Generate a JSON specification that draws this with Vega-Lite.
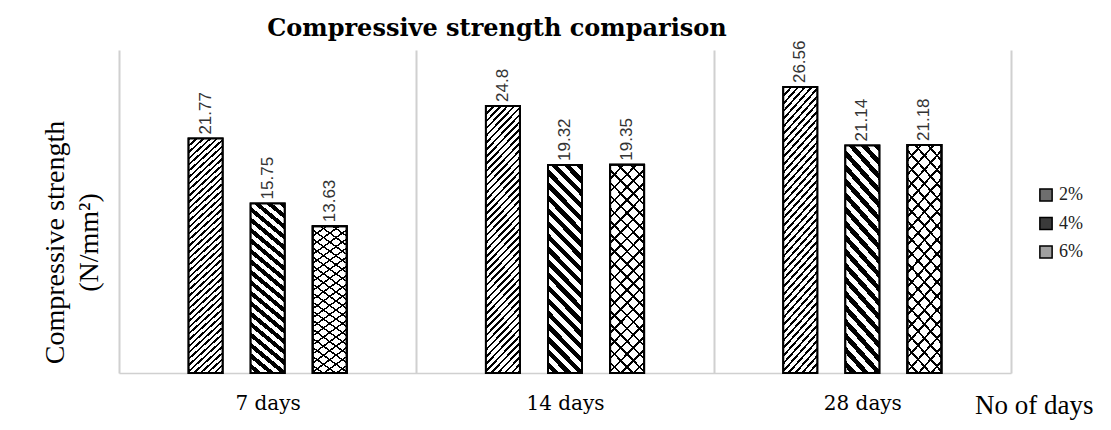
{
  "$schema": "https://vega.github.io/schema/vega-lite/v6.json",
  "width": 892,
  "height": 323,
  "autosize": "none",
  "padding": {"left": 119, "top": 50, "right": 100, "bottom": 57},
  "background": "white",
  "config": {"view": {"stroke": null}, "bar": {"width": 34}},
  "title": {"text": "Compressive strength comparison", "font": "DejaVu Serif", "fontSize": 24, "fontWeight": "bold", "color": "#000", "anchor": "middle", "frame": "group", "dx": -68, "offset": -1},
  "data": {"values": [
    {"days": "7 days", "mix": "2%", "strength": 21.77},
    {"days": "7 days", "mix": "4%", "strength": 15.75},
    {"days": "7 days", "mix": "6%", "strength": 13.63},
    {"days": "14 days", "mix": "2%", "strength": 24.8},
    {"days": "14 days", "mix": "4%", "strength": 19.32},
    {"days": "14 days", "mix": "6%", "strength": 19.35},
    {"days": "28 days", "mix": "2%", "strength": 26.56},
    {"days": "28 days", "mix": "4%", "strength": 21.14},
    {"days": "28 days", "mix": "6%", "strength": 21.18}
  ]},
  "encoding": {
    "x": {"field": "days", "type": "nominal", "sort": ["7 days", "14 days", "28 days"],
      "scale": {"paddingInner": 0, "paddingOuter": 0},
      "axis": {"title": "No of days", "labelAngle": 0, "grid": true, "tickBand": "extent", "gridColor": "#d0d0d0", "gridWidth": 2,
        "domainColor": "#d0d0d0", "domainWidth": 1.5, "ticks": false, "tickSize": 0,
        "labelFont": "DejaVu Serif", "labelFontSize": 20, "labelColor": "#000", "labelPadding": 20,
        "titleFont": "Liberation Serif", "titleFontSize": 27, "titleFontWeight": "normal", "titleColor": "#000",
        "titleX": 974, "titleY": 40, "titleAlign": "right", "titleBaseline": "alphabetic"}},
    "xOffset": {"field": "mix", "type": "nominal", "scale": {"domain": ["2%", "4%", "6%"], "paddingInner": 0.21, "paddingOuter": 1}},
    "y": {"field": "strength", "type": "quantitative", "scale": {"domain": [0, 30], "nice": false},
      "axis": {"title": ["Compressive strength", "(N/mm²)"], "domain": false, "labels": false, "ticks": false, "grid": false,
        "titleFont": "Liberation Serif", "titleFontSize": 28, "titleFontWeight": "normal", "titleColor": "#000",
        "titleAngle": 270, "titleX": -64, "titleY": 192, "titleAlign": "center", "titleBaseline": "middle", "titleLineHeight": 34}}
  },
  "layer": [
    {
      "mark": {"type": "bar", "stroke": "#000", "strokeWidth": 2, "width": 34},
      "encoding": {
        "fill": {"field": "mix", "type": "nominal", "scale": {"domain": ["2%", "4%", "6%"], "range": ["#6e6e6e", "#3a3a3a", "#a0a0a0"]},
          "legend": {"orient": "none", "legendX": 918, "legendY": 136, "title": null, "symbolType": "square", "symbolSize": 150,
            "symbolStrokeColor": "#000", "symbolStrokeWidth": 1.5, "labelFont": "Liberation Serif", "labelFontSize": 18,
            "labelColor": "#222", "rowPadding": 8.5, "padding": 0, "labelOffset": 4}}
      }
    },
    {
      "transform": [{"filter": "datum.mix === '2%'"}],
      "mark": {"type": "bar", "stroke": "#000", "strokeWidth": 2, "width": 34, "fill": {"gradient": "linear", "x1": 0, "y1": 0, "x2": 1, "y2": 7.5, "stops": [
        {"offset": 0, "color": "#000"}, {"offset": 0.0013, "color": "#000"}, {"offset": 0.0013, "color": "#fff"}, {"offset": 0.0035, "color": "#fff"},
        {"offset": 0.0035, "color": "#000"}, {"offset": 0.0048, "color": "#000"}, {"offset": 0.0048, "color": "#fff"}, {"offset": 0.007, "color": "#fff"},
        {"offset": 0.007, "color": "#000"}, {"offset": 0.0083, "color": "#000"}, {"offset": 0.0083, "color": "#fff"}, {"offset": 0.0105, "color": "#fff"},
        {"offset": 0.0105, "color": "#000"}, {"offset": 0.0118, "color": "#000"}, {"offset": 0.0118, "color": "#fff"}, {"offset": 0.014, "color": "#fff"},
        {"offset": 0.014, "color": "#000"}, {"offset": 0.0153, "color": "#000"}, {"offset": 0.0153, "color": "#fff"}, {"offset": 0.0175, "color": "#fff"},
        {"offset": 0.0175, "color": "#000"}, {"offset": 0.0188, "color": "#000"}, {"offset": 0.0188, "color": "#fff"}, {"offset": 0.021, "color": "#fff"},
        {"offset": 0.021, "color": "#000"}, {"offset": 0.0223, "color": "#000"}, {"offset": 0.0223, "color": "#fff"}, {"offset": 0.0245, "color": "#fff"},
        {"offset": 0.0245, "color": "#000"}, {"offset": 0.0258, "color": "#000"}, {"offset": 0.0258, "color": "#fff"}, {"offset": 0.028, "color": "#fff"},
        {"offset": 0.028, "color": "#000"}, {"offset": 0.0293, "color": "#000"}, {"offset": 0.0293, "color": "#fff"}, {"offset": 0.0315, "color": "#fff"},
        {"offset": 0.0315, "color": "#000"}, {"offset": 0.0328, "color": "#000"}, {"offset": 0.0328, "color": "#fff"}, {"offset": 0.035, "color": "#fff"},
        {"offset": 0.035, "color": "#000"}, {"offset": 0.0363, "color": "#000"}, {"offset": 0.0363, "color": "#fff"}, {"offset": 0.0385, "color": "#fff"},
        {"offset": 0.0385, "color": "#000"}, {"offset": 0.0398, "color": "#000"}, {"offset": 0.0398, "color": "#fff"}, {"offset": 0.042, "color": "#fff"},
        {"offset": 0.042, "color": "#000"}, {"offset": 0.0433, "color": "#000"}, {"offset": 0.0433, "color": "#fff"}, {"offset": 0.0455, "color": "#fff"},
        {"offset": 0.0455, "color": "#000"}, {"offset": 0.0468, "color": "#000"}, {"offset": 0.0468, "color": "#fff"}, {"offset": 0.049, "color": "#fff"},
        {"offset": 0.049, "color": "#000"}, {"offset": 0.0503, "color": "#000"}, {"offset": 0.0503, "color": "#fff"}, {"offset": 0.0525, "color": "#fff"},
        {"offset": 0.0525, "color": "#000"}, {"offset": 0.0538, "color": "#000"}, {"offset": 0.0538, "color": "#fff"}, {"offset": 0.056, "color": "#fff"},
        {"offset": 0.056, "color": "#000"}, {"offset": 0.0573, "color": "#000"}, {"offset": 0.0573, "color": "#fff"}, {"offset": 0.0595, "color": "#fff"},
        {"offset": 0.0595, "color": "#000"}, {"offset": 0.0608, "color": "#000"}, {"offset": 0.0608, "color": "#fff"}, {"offset": 0.063, "color": "#fff"},
        {"offset": 0.063, "color": "#000"}, {"offset": 0.0643, "color": "#000"}, {"offset": 0.0643, "color": "#fff"}, {"offset": 0.0665, "color": "#fff"},
        {"offset": 0.0665, "color": "#000"}, {"offset": 0.0678, "color": "#000"}, {"offset": 0.0678, "color": "#fff"}, {"offset": 0.07, "color": "#fff"},
        {"offset": 0.07, "color": "#000"}, {"offset": 0.0713, "color": "#000"}, {"offset": 0.0713, "color": "#fff"}, {"offset": 0.0735, "color": "#fff"},
        {"offset": 0.0735, "color": "#000"}, {"offset": 0.0748, "color": "#000"}, {"offset": 0.0748, "color": "#fff"}, {"offset": 0.077, "color": "#fff"},
        {"offset": 0.077, "color": "#000"}, {"offset": 0.0783, "color": "#000"}, {"offset": 0.0783, "color": "#fff"}, {"offset": 0.0805, "color": "#fff"},
        {"offset": 0.0805, "color": "#000"}, {"offset": 0.0818, "color": "#000"}, {"offset": 0.0818, "color": "#fff"}, {"offset": 0.084, "color": "#fff"},
        {"offset": 0.084, "color": "#000"}, {"offset": 0.0853, "color": "#000"}, {"offset": 0.0853, "color": "#fff"}, {"offset": 0.0875, "color": "#fff"},
        {"offset": 0.0875, "color": "#000"}, {"offset": 0.0888, "color": "#000"}, {"offset": 0.0888, "color": "#fff"}, {"offset": 0.091, "color": "#fff"},
        {"offset": 0.091, "color": "#000"}, {"offset": 0.0923, "color": "#000"}, {"offset": 0.0923, "color": "#fff"}, {"offset": 0.0945, "color": "#fff"},
        {"offset": 0.0945, "color": "#000"}, {"offset": 0.0958, "color": "#000"}, {"offset": 0.0958, "color": "#fff"}, {"offset": 0.098, "color": "#fff"},
        {"offset": 0.098, "color": "#000"}, {"offset": 0.0993, "color": "#000"}, {"offset": 0.0993, "color": "#fff"}, {"offset": 0.1015, "color": "#fff"},
        {"offset": 0.1015, "color": "#000"}, {"offset": 0.1028, "color": "#000"}, {"offset": 0.1028, "color": "#fff"}, {"offset": 0.105, "color": "#fff"},
        {"offset": 0.105, "color": "#000"}, {"offset": 0.1063, "color": "#000"}, {"offset": 0.1063, "color": "#fff"}, {"offset": 0.1085, "color": "#fff"},
        {"offset": 0.1085, "color": "#000"}, {"offset": 0.1098, "color": "#000"}, {"offset": 0.1098, "color": "#fff"}, {"offset": 0.112, "color": "#fff"},
        {"offset": 0.112, "color": "#000"}, {"offset": 0.1133, "color": "#000"}, {"offset": 0.1133, "color": "#fff"}, {"offset": 0.1155, "color": "#fff"},
        {"offset": 0.1155, "color": "#000"}, {"offset": 0.1168, "color": "#000"}, {"offset": 0.1168, "color": "#fff"}, {"offset": 0.119, "color": "#fff"},
        {"offset": 0.119, "color": "#000"}, {"offset": 0.1203, "color": "#000"}, {"offset": 0.1203, "color": "#fff"}, {"offset": 0.1225, "color": "#fff"},
        {"offset": 0.1225, "color": "#000"}, {"offset": 0.1238, "color": "#000"}, {"offset": 0.1238, "color": "#fff"}, {"offset": 0.126, "color": "#fff"},
        {"offset": 0.126, "color": "#000"}, {"offset": 0.1273, "color": "#000"}, {"offset": 0.1273, "color": "#fff"}, {"offset": 0.1295, "color": "#fff"},
        {"offset": 0.1295, "color": "#000"}, {"offset": 0.1308, "color": "#000"}, {"offset": 0.1308, "color": "#fff"}, {"offset": 0.133, "color": "#fff"},
        {"offset": 0.133, "color": "#000"}, {"offset": 0.1343, "color": "#000"}, {"offset": 0.1343, "color": "#fff"}, {"offset": 0.1365, "color": "#fff"},
        {"offset": 0.1365, "color": "#000"}, {"offset": 0.1378, "color": "#000"}, {"offset": 0.1378, "color": "#fff"}, {"offset": 0.14, "color": "#fff"},
        {"offset": 0.14, "color": "#000"}, {"offset": 0.1413, "color": "#000"}, {"offset": 0.1413, "color": "#fff"}, {"offset": 0.1435, "color": "#fff"},
        {"offset": 0.1435, "color": "#000"}, {"offset": 0.1448, "color": "#000"}, {"offset": 0.1448, "color": "#fff"}, {"offset": 0.147, "color": "#fff"},
        {"offset": 0.147, "color": "#000"}, {"offset": 0.1483, "color": "#000"}, {"offset": 0.1483, "color": "#fff"}, {"offset": 0.1505, "color": "#fff"}
      ]}}
    },
    {
      "transform": [{"filter": "datum.mix === '4%'"}],
      "mark": {"type": "bar", "stroke": "#000", "strokeWidth": 2, "width": 34, "fill": {"gradient": "linear", "x1": 1, "y1": 0, "x2": 0, "y2": 6, "stops": [
        {"offset": 0, "color": "#000"}, {"offset": 0.005, "color": "#000"}, {"offset": 0.005, "color": "#fff"}, {"offset": 0.01, "color": "#fff"},
        {"offset": 0.01, "color": "#000"}, {"offset": 0.015, "color": "#000"}, {"offset": 0.015, "color": "#fff"}, {"offset": 0.02, "color": "#fff"},
        {"offset": 0.02, "color": "#000"}, {"offset": 0.025, "color": "#000"}, {"offset": 0.025, "color": "#fff"}, {"offset": 0.03, "color": "#fff"},
        {"offset": 0.03, "color": "#000"}, {"offset": 0.035, "color": "#000"}, {"offset": 0.035, "color": "#fff"}, {"offset": 0.04, "color": "#fff"},
        {"offset": 0.04, "color": "#000"}, {"offset": 0.045, "color": "#000"}, {"offset": 0.045, "color": "#fff"}, {"offset": 0.05, "color": "#fff"},
        {"offset": 0.05, "color": "#000"}, {"offset": 0.055, "color": "#000"}, {"offset": 0.055, "color": "#fff"}, {"offset": 0.06, "color": "#fff"},
        {"offset": 0.06, "color": "#000"}, {"offset": 0.065, "color": "#000"}, {"offset": 0.065, "color": "#fff"}, {"offset": 0.07, "color": "#fff"},
        {"offset": 0.07, "color": "#000"}, {"offset": 0.075, "color": "#000"}, {"offset": 0.075, "color": "#fff"}, {"offset": 0.08, "color": "#fff"},
        {"offset": 0.08, "color": "#000"}, {"offset": 0.085, "color": "#000"}, {"offset": 0.085, "color": "#fff"}, {"offset": 0.09, "color": "#fff"},
        {"offset": 0.09, "color": "#000"}, {"offset": 0.095, "color": "#000"}, {"offset": 0.095, "color": "#fff"}, {"offset": 0.1, "color": "#fff"},
        {"offset": 0.1, "color": "#000"}, {"offset": 0.105, "color": "#000"}, {"offset": 0.105, "color": "#fff"}, {"offset": 0.11, "color": "#fff"},
        {"offset": 0.11, "color": "#000"}, {"offset": 0.115, "color": "#000"}, {"offset": 0.115, "color": "#fff"}, {"offset": 0.12, "color": "#fff"},
        {"offset": 0.12, "color": "#000"}, {"offset": 0.125, "color": "#000"}, {"offset": 0.125, "color": "#fff"}, {"offset": 0.13, "color": "#fff"},
        {"offset": 0.13, "color": "#000"}, {"offset": 0.135, "color": "#000"}, {"offset": 0.135, "color": "#fff"}, {"offset": 0.14, "color": "#fff"},
        {"offset": 0.14, "color": "#000"}, {"offset": 0.145, "color": "#000"}, {"offset": 0.145, "color": "#fff"}, {"offset": 0.15, "color": "#fff"},
        {"offset": 0.15, "color": "#000"}, {"offset": 0.155, "color": "#000"}, {"offset": 0.155, "color": "#fff"}, {"offset": 0.16, "color": "#fff"},
        {"offset": 0.16, "color": "#000"}, {"offset": 0.165, "color": "#000"}, {"offset": 0.165, "color": "#fff"}, {"offset": 0.17, "color": "#fff"},
        {"offset": 0.17, "color": "#000"}, {"offset": 0.175, "color": "#000"}, {"offset": 0.175, "color": "#fff"}, {"offset": 0.18, "color": "#fff"},
        {"offset": 0.18, "color": "#000"}, {"offset": 0.185, "color": "#000"}, {"offset": 0.185, "color": "#fff"}, {"offset": 0.19, "color": "#fff"}
      ]}}
    },
    {
      "transform": [{"filter": "datum.mix === '6%'"}],
      "mark": {"type": "bar", "stroke": "#000", "strokeWidth": 2, "width": 34, "fill": {"gradient": "linear", "x1": 0, "y1": 0, "x2": 1, "y2": 6, "stops": [
        {"offset": 0, "color": "#000"}, {"offset": 0.002, "color": "#000"}, {"offset": 0.002, "color": "#fff"}, {"offset": 0.01, "color": "#fff"},
        {"offset": 0.01, "color": "#000"}, {"offset": 0.012, "color": "#000"}, {"offset": 0.012, "color": "#fff"}, {"offset": 0.02, "color": "#fff"},
        {"offset": 0.02, "color": "#000"}, {"offset": 0.022, "color": "#000"}, {"offset": 0.022, "color": "#fff"}, {"offset": 0.03, "color": "#fff"},
        {"offset": 0.03, "color": "#000"}, {"offset": 0.032, "color": "#000"}, {"offset": 0.032, "color": "#fff"}, {"offset": 0.04, "color": "#fff"},
        {"offset": 0.04, "color": "#000"}, {"offset": 0.042, "color": "#000"}, {"offset": 0.042, "color": "#fff"}, {"offset": 0.05, "color": "#fff"},
        {"offset": 0.05, "color": "#000"}, {"offset": 0.052, "color": "#000"}, {"offset": 0.052, "color": "#fff"}, {"offset": 0.06, "color": "#fff"},
        {"offset": 0.06, "color": "#000"}, {"offset": 0.062, "color": "#000"}, {"offset": 0.062, "color": "#fff"}, {"offset": 0.07, "color": "#fff"},
        {"offset": 0.07, "color": "#000"}, {"offset": 0.072, "color": "#000"}, {"offset": 0.072, "color": "#fff"}, {"offset": 0.08, "color": "#fff"},
        {"offset": 0.08, "color": "#000"}, {"offset": 0.082, "color": "#000"}, {"offset": 0.082, "color": "#fff"}, {"offset": 0.09, "color": "#fff"},
        {"offset": 0.09, "color": "#000"}, {"offset": 0.092, "color": "#000"}, {"offset": 0.092, "color": "#fff"}, {"offset": 0.1, "color": "#fff"},
        {"offset": 0.1, "color": "#000"}, {"offset": 0.102, "color": "#000"}, {"offset": 0.102, "color": "#fff"}, {"offset": 0.11, "color": "#fff"},
        {"offset": 0.11, "color": "#000"}, {"offset": 0.112, "color": "#000"}, {"offset": 0.112, "color": "#fff"}, {"offset": 0.12, "color": "#fff"},
        {"offset": 0.12, "color": "#000"}, {"offset": 0.122, "color": "#000"}, {"offset": 0.122, "color": "#fff"}, {"offset": 0.13, "color": "#fff"},
        {"offset": 0.13, "color": "#000"}, {"offset": 0.132, "color": "#000"}, {"offset": 0.132, "color": "#fff"}, {"offset": 0.14, "color": "#fff"},
        {"offset": 0.14, "color": "#000"}, {"offset": 0.142, "color": "#000"}, {"offset": 0.142, "color": "#fff"}, {"offset": 0.15, "color": "#fff"},
        {"offset": 0.15, "color": "#000"}, {"offset": 0.152, "color": "#000"}, {"offset": 0.152, "color": "#fff"}, {"offset": 0.16, "color": "#fff"},
        {"offset": 0.16, "color": "#000"}, {"offset": 0.162, "color": "#000"}, {"offset": 0.162, "color": "#fff"}, {"offset": 0.17, "color": "#fff"},
        {"offset": 0.17, "color": "#000"}, {"offset": 0.172, "color": "#000"}, {"offset": 0.172, "color": "#fff"}, {"offset": 0.18, "color": "#fff"},
        {"offset": 0.18, "color": "#000"}, {"offset": 0.182, "color": "#000"}, {"offset": 0.182, "color": "#fff"}, {"offset": 0.19, "color": "#fff"}
      ]}}
    },
    {
      "transform": [{"filter": "datum.mix === '6%'"}],
      "mark": {"type": "bar", "stroke": "#000", "strokeWidth": 2, "width": 34, "fill": {"gradient": "linear", "x1": 1, "y1": 0, "x2": 0, "y2": 6, "stops": [
        {"offset": 0, "color": "#000"}, {"offset": 0.002, "color": "#000"}, {"offset": 0.002, "color": "transparent"}, {"offset": 0.01, "color": "transparent"},
        {"offset": 0.01, "color": "#000"}, {"offset": 0.012, "color": "#000"}, {"offset": 0.012, "color": "transparent"}, {"offset": 0.02, "color": "transparent"},
        {"offset": 0.02, "color": "#000"}, {"offset": 0.022, "color": "#000"}, {"offset": 0.022, "color": "transparent"}, {"offset": 0.03, "color": "transparent"},
        {"offset": 0.03, "color": "#000"}, {"offset": 0.032, "color": "#000"}, {"offset": 0.032, "color": "transparent"}, {"offset": 0.04, "color": "transparent"},
        {"offset": 0.04, "color": "#000"}, {"offset": 0.042, "color": "#000"}, {"offset": 0.042, "color": "transparent"}, {"offset": 0.05, "color": "transparent"},
        {"offset": 0.05, "color": "#000"}, {"offset": 0.052, "color": "#000"}, {"offset": 0.052, "color": "transparent"}, {"offset": 0.06, "color": "transparent"},
        {"offset": 0.06, "color": "#000"}, {"offset": 0.062, "color": "#000"}, {"offset": 0.062, "color": "transparent"}, {"offset": 0.07, "color": "transparent"},
        {"offset": 0.07, "color": "#000"}, {"offset": 0.072, "color": "#000"}, {"offset": 0.072, "color": "transparent"}, {"offset": 0.08, "color": "transparent"},
        {"offset": 0.08, "color": "#000"}, {"offset": 0.082, "color": "#000"}, {"offset": 0.082, "color": "transparent"}, {"offset": 0.09, "color": "transparent"},
        {"offset": 0.09, "color": "#000"}, {"offset": 0.092, "color": "#000"}, {"offset": 0.092, "color": "transparent"}, {"offset": 0.1, "color": "transparent"},
        {"offset": 0.1, "color": "#000"}, {"offset": 0.102, "color": "#000"}, {"offset": 0.102, "color": "transparent"}, {"offset": 0.11, "color": "transparent"},
        {"offset": 0.11, "color": "#000"}, {"offset": 0.112, "color": "#000"}, {"offset": 0.112, "color": "transparent"}, {"offset": 0.12, "color": "transparent"},
        {"offset": 0.12, "color": "#000"}, {"offset": 0.122, "color": "#000"}, {"offset": 0.122, "color": "transparent"}, {"offset": 0.13, "color": "transparent"},
        {"offset": 0.13, "color": "#000"}, {"offset": 0.132, "color": "#000"}, {"offset": 0.132, "color": "transparent"}, {"offset": 0.14, "color": "transparent"},
        {"offset": 0.14, "color": "#000"}, {"offset": 0.142, "color": "#000"}, {"offset": 0.142, "color": "transparent"}, {"offset": 0.15, "color": "transparent"},
        {"offset": 0.15, "color": "#000"}, {"offset": 0.152, "color": "#000"}, {"offset": 0.152, "color": "transparent"}, {"offset": 0.16, "color": "transparent"},
        {"offset": 0.16, "color": "#000"}, {"offset": 0.162, "color": "#000"}, {"offset": 0.162, "color": "transparent"}, {"offset": 0.17, "color": "transparent"},
        {"offset": 0.17, "color": "#000"}, {"offset": 0.172, "color": "#000"}, {"offset": 0.172, "color": "transparent"}, {"offset": 0.18, "color": "transparent"},
        {"offset": 0.18, "color": "#000"}, {"offset": 0.182, "color": "#000"}, {"offset": 0.182, "color": "transparent"}, {"offset": 0.19, "color": "transparent"}
      ]}}
    },
    {
      "mark": {"type": "text", "angle": 270, "align": "left", "baseline": "middle", "dx": 4, "font": "Liberation Sans", "fontSize": 17, "color": "#333"},
      "encoding": {"text": {"field": "strength", "type": "quantitative"}}
    }
  ]
}
